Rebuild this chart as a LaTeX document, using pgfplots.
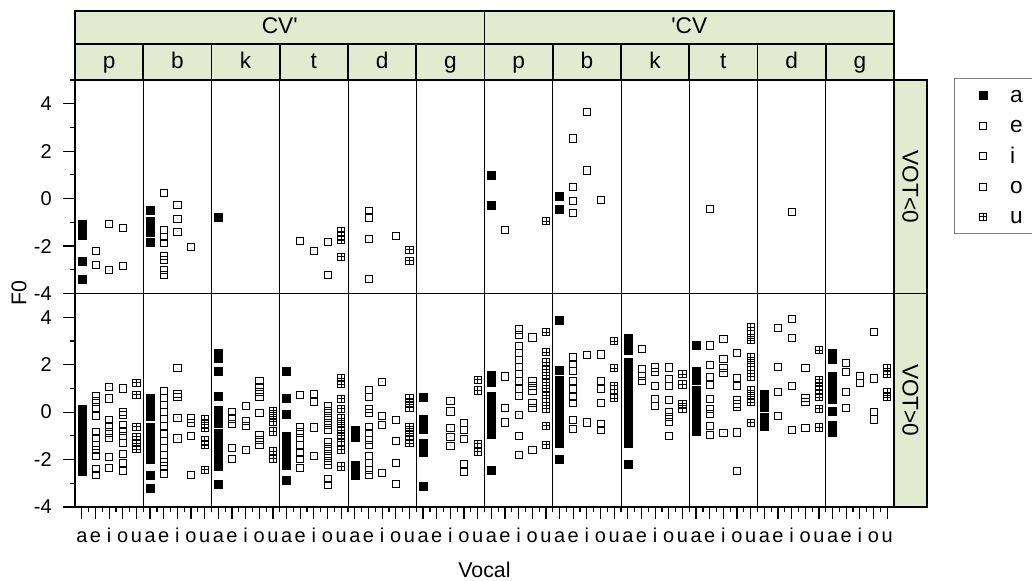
\documentclass[border=0pt]{standalone}
\usepackage{fontspec}
\setmainfont{Liberation Sans}
\usepackage{pgfplots}
\usepackage{pgfplotstable}
\pgfplotsset{compat=1.18}
\definecolor{stripc}{RGB}{226,234,207}
\newcommand{\stripfont}{\fontsize{17}{19}\selectfont}
\newcommand{\tickfont}{\fontsize{15}{17}\selectfont}
\pgfdeclareplotmark{boxplus}{%
  \pgfpathrectangle{\pgfpoint{-\pgfplotmarksize}{-\pgfplotmarksize}}{\pgfpoint{2\pgfplotmarksize}{2\pgfplotmarksize}}%
  \pgfpathmoveto{\pgfpoint{-\pgfplotmarksize}{0pt}}\pgfpathlineto{\pgfpoint{\pgfplotmarksize}{0pt}}%
  \pgfpathmoveto{\pgfpoint{0pt}{-\pgfplotmarksize}}\pgfpathlineto{\pgfpoint{0pt}{\pgfplotmarksize}}%
  \pgfusepathqstroke}
\pgfdeclareplotmark{sqdot}{%
  \pgfpathrectangle{\pgfpoint{-\pgfplotmarksize}{-\pgfplotmarksize}}{\pgfpoint{2\pgfplotmarksize}{2\pgfplotmarksize}}%
  \pgfusepathqstroke
  \pgfpathcircle{\pgfpointorigin}{0.35pt}\pgfusepathqfill}

% x = position (group*5 + vowel), y = F0, p = panel (1 = VOT<0, 0 = VOT>0)
\pgfplotstableread{
x y p
1 -1.1 1
1 -1.3 1
1 -1.5 1
1 -1.56 1
1 -2.65 1
1 -3.38 1
6 -0.48 1
6 -0.95 1
6 -1.2 1
6 -1.42 1
6 -1.82 1
11 -0.77 1
31 1.0 1
31 -0.27 1
36 0.11 1
36 -0.44 1
1 0.11 0
1 -0.19 0
1 -0.49 0
1 -0.79 0
1 -1.09 0
1 -1.39 0
1 -1.69 0
1 -1.99 0
1 -2.29 0
1 -2.47 0
6 0.6 0
6 0.3 0
6 0.05 0
6 -0.18 0
6 -0.63 0
6 -0.93 0
6 -1.23 0
6 -1.53 0
6 -1.8 0
6 -1.99 0
6 -2.64 0
6 -3.22 0
11 2.5 0
11 2.26 0
11 1.74 0
11 0.69 0
11 0.07 0
11 -0.2 0
11 -0.47 0
11 -0.9 0
11 -1.2 0
11 -1.5 0
11 -1.8 0
11 -2.1 0
11 -2.3 0
11 -3.06 0
16 1.74 0
16 0.57 0
16 -0.1 0
16 -1.01 0
16 -1.3 0
16 -1.6 0
16 -1.9 0
16 -2.24 0
16 -2.89 0
21 -0.75 0
21 -1.07 0
21 -2.25 0
21 -2.45 0
21 -2.65 0
26 0.61 0
26 -0.31 0
26 -0.5 0
26 -0.72 0
26 -1.33 0
26 -1.5 0
26 -1.69 0
26 -3.14 0
31 1.57 0
31 1.28 0
31 0.69 0
31 0.4 0
31 0.1 0
31 -0.2 0
31 -0.5 0
31 -0.75 0
31 -0.93 0
31 -2.43 0
36 3.86 0
36 1.78 0
36 1.36 0
36 1.06 0
36 0.76 0
36 0.46 0
36 0.16 0
36 -0.14 0
36 -0.44 0
36 -0.74 0
36 -1.04 0
36 -1.29 0
36 -1.97 0
41 3.1 0
41 2.86 0
41 2.63 0
41 2.1 0
41 1.8 0
41 1.5 0
41 1.2 0
41 0.9 0
41 0.6 0
41 0.3 0
41 0.0 0
41 -0.3 0
41 -0.6 0
41 -0.9 0
41 -1.15 0
41 -1.31 0
41 -2.21 0
46 2.83 0
46 1.74 0
46 1.5 0
46 1.33 0
46 0.94 0
46 0.65 0
46 0.35 0
46 0.05 0
46 -0.25 0
46 -0.55 0
46 -0.82 0
51 0.74 0
51 0.48 0
51 0.22 0
51 -0.22 0
51 -0.41 0
51 -0.6 0
56 2.49 0
56 2.24 0
56 1.53 0
56 1.2 0
56 0.87 0
56 0.54 0
56 0.03 0
56 -0.56 0
56 -0.7 0
56 -0.85 0
}\dataA

\pgfplotstableread{
x y p
2 -2.19 1
2 -2.78 1
7 0.24 1
7 -1.32 1
7 -1.6 1
7 -1.88 1
7 -2.41 1
7 -2.58 1
7 -3.0 1
7 -3.21 1
17 -1.78 1
22 -0.51 1
22 -0.79 1
22 -1.71 1
22 -3.37 1
32 -1.32 1
37 2.54 1
37 0.48 1
37 -0.11 1
37 -0.59 1
47 -0.44 1
2 0.7 0
2 0.45 0
2 0.2 0
2 -0.17 0
2 -0.82 0
2 -1.1 0
2 -1.4 0
2 -1.6 0
2 -1.83 0
2 -2.38 0
2 -2.63 0
7 0.89 0
7 0.6 0
7 0.3 0
7 0.0 0
7 -0.3 0
7 -0.6 0
7 -0.9 0
7 -1.2 0
7 -1.5 0
7 -1.8 0
7 -2.1 0
7 -2.25 0
7 -2.6 0
12 0.0 0
12 -0.26 0
12 -0.51 0
12 -1.51 0
12 -1.96 0
17 0.72 0
17 -0.61 0
17 -0.85 0
17 -1.1 0
17 -1.4 0
17 -1.7 0
17 -1.97 0
17 -2.36 0
22 0.94 0
22 0.64 0
22 0.15 0
22 -0.03 0
22 -0.61 0
22 -0.89 0
22 -1.17 0
22 -1.38 0
22 -1.83 0
22 -2.14 0
22 -2.42 0
22 -2.63 0
32 1.51 0
32 0.19 0
32 -0.43 0
37 2.31 0
37 2.03 0
37 1.75 0
37 1.33 0
37 0.99 0
37 0.64 0
37 0.39 0
37 -0.33 0
37 -0.72 0
42 2.68 0
42 1.82 0
42 1.54 0
42 1.31 0
47 2.81 0
47 2.0 0
47 1.47 0
47 1.15 0
47 0.57 0
47 0.15 0
47 -0.08 0
47 -0.58 0
47 -0.96 0
52 3.54 0
52 1.9 0
52 0.85 0
52 -0.15 0
57 2.06 0
57 1.68 0
57 0.85 0
57 0.19 0
}\dataE

\pgfplotstableread{
x y p
3 -1.08 1
3 -3.02 1
8 -0.28 1
8 -0.86 1
8 -1.39 1
18 -2.19 1
38 3.65 1
38 1.19 1
53 -0.56 1
3 1.08 0
3 0.58 0
3 -0.33 0
3 -0.6 0
3 -0.85 0
3 -1.1 0
3 -1.9 0
3 -2.36 0
8 1.85 0
8 0.78 0
8 0.64 0
8 -0.24 0
8 -1.11 0
13 0.26 0
13 -0.36 0
13 -0.58 0
13 -1.58 0
18 0.78 0
18 0.43 0
18 -0.64 0
18 -1.83 0
23 1.29 0
23 -0.17 0
23 -0.54 0
23 -2.56 0
28 0.49 0
28 0.03 0
28 -0.68 0
28 -1.03 0
28 -1.42 0
33 3.49 0
33 3.25 0
33 2.79 0
33 2.5 0
33 2.2 0
33 1.9 0
33 1.6 0
33 1.3 0
33 1.0 0
33 0.7 0
33 -0.1 0
33 -1.0 0
33 -1.81 0
38 2.4 0
38 -0.43 0
43 1.89 0
43 1.68 0
43 1.11 0
43 0.57 0
43 0.26 0
48 3.1 0
48 2.24 0
48 1.86 0
48 1.64 0
48 -0.86 0
53 3.94 0
53 3.14 0
53 1.1 0
53 -0.76 0
58 1.54 0
58 1.22 0
}\dataI

\pgfplotstableread{
x y p
4 -1.24 1
4 -2.85 1
9 -2.02 1
19 -1.81 1
19 -3.2 1
24 -1.56 1
39 -0.06 1
4 1.0 0
4 0.0 0
4 -0.1 0
4 -0.54 0
4 -0.8 0
4 -1.0 0
4 -1.28 0
4 -1.75 0
4 -2.14 0
4 -2.49 0
9 -0.26 0
9 -0.44 0
9 -1.0 0
9 -2.64 0
14 1.33 0
14 1.06 0
14 0.85 0
14 0.64 0
14 -0.03 0
14 -0.97 0
14 -1.17 0
14 -1.38 0
19 0.25 0
19 0.05 0
19 -0.15 0
19 -0.35 0
19 -0.55 0
19 -0.75 0
19 -1.24 0
19 -1.45 0
19 -1.65 0
19 -1.86 0
19 -2.05 0
19 -2.21 0
19 -2.83 0
19 -3.07 0
24 -0.33 0
24 -1.21 0
24 -2.14 0
24 -3.01 0
29 -0.47 0
29 -0.75 0
29 -1.13 0
29 -2.18 0
29 -2.53 0
34 3.15 0
34 1.33 0
34 1.12 0
34 0.92 0
34 0.39 0
34 0.19 0
34 -1.58 0
39 2.43 0
39 1.33 0
39 0.99 0
39 0.39 0
39 -0.5 0
39 -0.75 0
44 1.89 0
44 1.4 0
44 1.12 0
44 0.5 0
44 0.01 0
44 -0.19 0
44 -0.4 0
44 -1.0 0
49 2.5 0
49 1.44 0
49 1.12 0
49 0.53 0
49 0.36 0
49 0.22 0
49 -0.85 0
49 -2.47 0
54 1.86 0
54 0.61 0
54 0.43 0
54 -0.68 0
59 3.38 0
59 1.42 0
59 0.01 0
59 -0.31 0
}\dataO

\pgfplotstableread{
x y p
20 -1.38 1
20 -1.56 1
20 -1.74 1
20 -2.44 1
25 -2.15 1
25 -2.61 1
35 -0.94 1
5 1.24 0
5 0.74 0
5 -0.61 0
5 -1.03 0
5 -1.31 0
5 -1.56 0
10 -0.3 0
10 -0.5 0
10 -0.68 0
10 -1.19 0
10 -1.39 0
10 -2.43 0
15 0.06 0
15 -0.17 0
15 -0.4 0
15 -0.81 0
15 -1.64 0
15 -1.97 0
20 1.43 0
20 1.19 0
20 0.57 0
20 0.15 0
20 -0.26 0
20 -0.5 0
20 -0.75 0
20 -1.0 0
20 -1.25 0
20 -1.58 0
20 -2.29 0
25 0.6 0
25 0.39 0
25 0.19 0
25 -0.61 0
25 -0.82 0
25 -1.03 0
25 -1.31 0
30 1.36 0
30 0.92 0
30 -1.33 0
30 -1.67 0
35 3.38 0
35 2.53 0
35 2.1 0
35 1.82 0
35 1.54 0
35 1.26 0
35 0.99 0
35 0.71 0
35 0.43 0
35 0.15 0
35 -0.57 0
35 -1.38 0
40 2.99 0
40 1.86 0
40 1.12 0
40 0.96 0
40 0.6 0
45 1.61 0
45 1.17 0
45 0.36 0
45 0.15 0
50 3.58 0
50 3.28 0
50 3.03 0
50 2.31 0
50 2.06 0
50 1.78 0
50 1.5 0
50 0.92 0
50 0.67 0
50 0.43 0
50 -0.44 0
55 2.61 0
55 1.36 0
55 1.12 0
55 0.92 0
55 0.64 0
55 0.15 0
55 -0.64 0
60 1.85 0
60 1.61 0
60 0.85 0
60 0.64 0
}\dataU

\begin{document}
\begin{tikzpicture}
\useasboundingbox (0,0) rectangle (774pt,435.75pt);
\begin{axis}[
  at={(56.25pt,55.5pt)}, anchor=south west,
  scale only axis, width=614.25pt, height=320.25pt,
  xmin=0.5, xmax=60.5, ymin=-4, ymax=14,
  clip=false,
  axis line style={line width=1.2pt},
  tick align=outside,
  xtick pos=bottom, ytick pos=left,
  xtick={1,...,60},
  xticklabels={a,e,i,o,u,a,e,i,o,u,a,e,i,o,u,a,e,i,o,u,a,e,i,o,u,a,e,i,o,u,a,e,i,o,u,a,e,i,o,u,a,e,i,o,u,a,e,i,o,u,a,e,i,o,u,a,e,i,o,u},
  minor xtick={1.5,2.5,...,59.5},
  ytick={-4,-2,0,2,4,5,7,9,11,13},
  yticklabels={},
  minor ytick={-3,-1,1,3,6,8,10,12,14},
  major tick length=9pt, minor tick length=4pt,
  every tick/.style={black, line width=0.9pt},
  tick label style={font=\tickfont},
  xticklabel style={anchor=base, inner sep=0pt, yshift=-18pt},
  extra x ticks={5.5,10.5,15.5,20.5,25.5,30.5,35.5,40.5,45.5,50.5,55.5},
  extra x tick labels={},
  extra x tick style={grid=major, major grid style={black, line width=0.75pt}, major tick length=4pt},
  xlabel={Vocal}, ylabel={F0},
  xlabel style={at={(axis description cs:0.5,-0.1475)}, anchor=center, font=\fontsize{16}{18}\selectfont},
  ylabel style={at={(axis description cs:-0.0684,0.5)}, anchor=center, font=\fontsize{16}{18}\selectfont},
  legend style={at={(axis description cs:1,1)}, anchor=north west, xshift=45pt, yshift=1.5pt,
    draw=gray, line width=0.6pt, font=\fontsize{17}{19}\selectfont,
    inner xsep=18.5pt, inner ysep=4.2pt, row sep=5.4pt, column sep=15.25pt,
    nodes={inner sep=2pt}},
  legend cell align=left,
  legend image code/.code={\draw[#1] plot coordinates {(0pt,0pt)};},
]
\addplot[only marks, mark=square*, mark size=3pt, mark options={draw=black, fill=black, line width=0.3pt}]
  table[x=x, y expr=\thisrow{y}+9*\thisrow{p}] {\dataA};
\addplot[only marks, mark=square, mark size=2.7pt, mark options={draw=black, line width=0.55pt}]
  table[x=x, y expr=\thisrow{y}+9*\thisrow{p}] {\dataE};
\addplot[only marks, mark=sqdot, mark size=2.7pt, mark options={draw=black, fill=gray, line width=0.55pt}]
  table[x=x, y expr=\thisrow{y}+9*\thisrow{p}] {\dataI};
\addplot[only marks, mark=square, mark size=2.7pt, mark options={draw=black, line width=0.55pt}]
  table[x=x, y expr=\thisrow{y}+9*\thisrow{p}] {\dataO};
\addplot[only marks, mark=boxplus, mark size=2.7pt, mark options={draw=black, line width=0.55pt}]
  table[x=x, y expr=\thisrow{y}+9*\thisrow{p}] {\dataU};
\legend{{\vphantom{Ag}a\hspace*{20pt}},{\vphantom{Ag}e},{\vphantom{Ag}i},{\vphantom{Ag}o},{\vphantom{Ag}u}}

% y tick labels (two panels, each -4..4)
\pgfplotsinvokeforeach{-4,-2,0,2,4}{
  \node[anchor=east, inner sep=0pt, font=\tickfont] at ([xshift=-17.25pt]axis cs:0.5,#1) {#1};
}
\node[anchor=east, inner sep=0pt, font=\tickfont] at ([xshift=-17.25pt]axis cs:0.5,5) {-4};
\node[anchor=east, inner sep=0pt, font=\tickfont] at ([xshift=-17.25pt]axis cs:0.5,7) {-2};
\node[anchor=east, inner sep=0pt, font=\tickfont] at ([xshift=-17.25pt]axis cs:0.5,9) {0};
\node[anchor=east, inner sep=0pt, font=\tickfont] at ([xshift=-17.25pt]axis cs:0.5,11) {2};
\node[anchor=east, inner sep=0pt, font=\tickfont] at ([xshift=-17.25pt]axis cs:0.5,13) {4};

% panel divider
\draw[line width=0.75pt] (rel axis cs:0,0.5) -- (rel axis cs:1,0.5);
% top strips
\fill[stripc] (rel axis cs:0,1) rectangle ([yshift=51.75pt]rel axis cs:1,1);
\draw[line width=1.2pt] (rel axis cs:0,1) rectangle ([yshift=51.75pt]rel axis cs:1,1);
\draw[line width=1.2pt] ([yshift=27pt]rel axis cs:0,1) -- ([yshift=27pt]rel axis cs:1,1);
\draw[line width=1.2pt] (axis cs:30.5,14) -- ([yshift=51.75pt]axis cs:30.5,14);
\pgfplotsinvokeforeach{5.5,10.5,15.5,20.5,25.5,35.5,40.5,45.5,50.5,55.5}{
  \draw[line width=1.2pt] (axis cs:#1,14) -- ([yshift=27pt]axis cs:#1,14);
}
% right strip
\fill[stripc] (rel axis cs:1,0) rectangle ([xshift=24.75pt]rel axis cs:1,1);
\draw[line width=1.2pt] (rel axis cs:1,0) rectangle ([xshift=24.75pt]rel axis cs:1,1);
\draw[line width=1.2pt] (rel axis cs:1,0.5) -- ([xshift=24.75pt]rel axis cs:1,0.5);
% strip labels
\node[font=\stripfont, anchor=base] at ([yshift=34.9pt]axis cs:15.5,14) {CV\textquotesingle};
\node[font=\stripfont, anchor=base] at ([yshift=34.9pt]axis cs:45.5,14) {\textquotesingle CV};
\node[font=\stripfont, anchor=base] at ([yshift=8.25pt]axis cs:3,14) {p};
\node[font=\stripfont, anchor=base] at ([yshift=8.25pt]axis cs:8,14) {b};
\node[font=\stripfont, anchor=base] at ([yshift=8.25pt]axis cs:13,14) {k};
\node[font=\stripfont, anchor=base] at ([yshift=8.25pt]axis cs:18,14) {t};
\node[font=\stripfont, anchor=base] at ([yshift=8.25pt]axis cs:23,14) {d};
\node[font=\stripfont, anchor=base] at ([yshift=8.25pt]axis cs:28,14) {g};
\node[font=\stripfont, anchor=base] at ([yshift=8.25pt]axis cs:33,14) {p};
\node[font=\stripfont, anchor=base] at ([yshift=8.25pt]axis cs:38,14) {b};
\node[font=\stripfont, anchor=base] at ([yshift=8.25pt]axis cs:43,14) {k};
\node[font=\stripfont, anchor=base] at ([yshift=8.25pt]axis cs:48,14) {t};
\node[font=\stripfont, anchor=base] at ([yshift=8.25pt]axis cs:53,14) {d};
\node[font=\stripfont, anchor=base] at ([yshift=8.25pt]axis cs:58,14) {g};
\node[font=\stripfont, rotate=-90] at ([xshift=12.4pt]rel axis cs:1,0.75) {VOT<0};
\node[font=\stripfont, rotate=-90] at ([xshift=12.4pt]rel axis cs:1,0.25) {VOT>0};
\end{axis}
\end{tikzpicture}
\end{document}
